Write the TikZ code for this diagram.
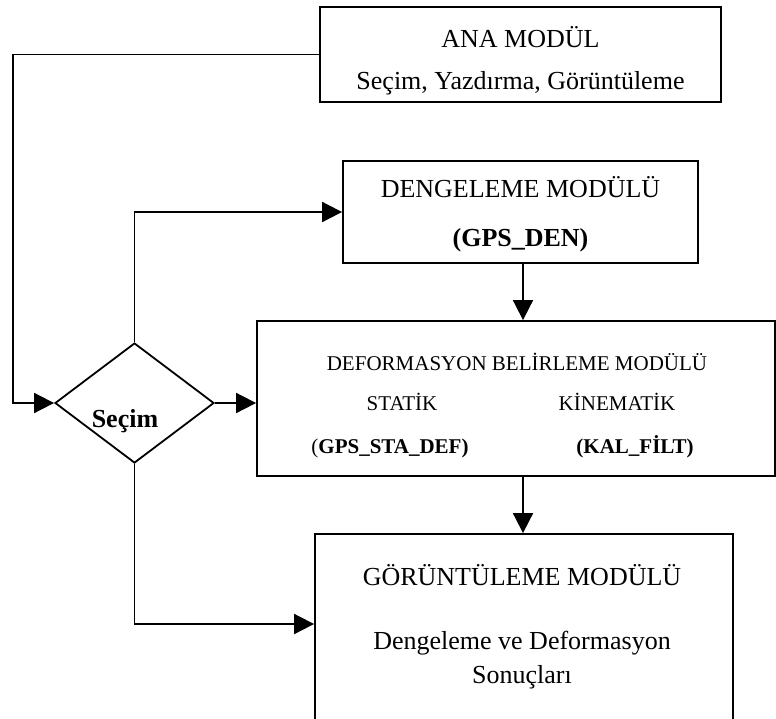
\documentclass[tikz,border=0pt]{standalone}
\usepackage{fontspec}
\setmainfont{Liberation Serif}
\usetikzlibrary{shapes.geometric,arrows.meta}
\tikzset{
  box/.style={draw, line width=1.8pt, rectangle, inner sep=0pt},
  arr/.style={line width=1.8pt, -{Triangle[length=20pt,width=20pt]}},
  conn/.style={line width=1.8pt},
  big/.style={font=\fontsize{26}{30}\selectfont, anchor=base, inner sep=0pt},
  mid/.style={font=\fontsize{21}{25}\selectfont, anchor=base, inner sep=0pt},
}
\begin{document}
\begin{tikzpicture}[x=1pt,y=-1pt]
\useasboundingbox (0,0) rectangle (776,718);
\clip (0,0) rectangle (776,718);
% boxes
\node[box, minimum width=401pt, minimum height=95pt] (ana) at (520.5,54.5) {};
\node[box, minimum width=355pt, minimum height=102pt] (deng) at (520.5,212) {};
\node[box, minimum width=518pt, minimum height=155pt] (def) at (516,398.5) {};
\node[box, minimum width=418pt, minimum height=200pt] (gor) at (524,634) {};
\node[draw, line width=1.8pt, diamond, minimum width=159pt, minimum height=120pt, inner sep=0pt] (sec) at (134.5,403) {};
% texts
\node[big] (t1) at (520.5,47.5) {ANA MODÜL};
\node[big] (t2) at (520.5,89) {Seçim, Yazdırma, Görüntüleme};
\node[big] (t3) at (520.5,197) {DENGELEME MODÜLÜ};
\node[big, font=\fontsize{26}{30}\selectfont\bfseries] (t4) at (520.5,246) {(GPS\_DEN)};
\node[mid] (t5) at (517,370) {DEFORMASYON BELİRLEME MODÜLÜ};
\node[mid] (t6) at (402,410) {STATİK};
\node[mid] (t7) at (617,410) {KİNEMATİK};
\node[mid] (t8) at (390,453) {({\bfseries GPS\_STA\_DEF)}};
\node[mid, font=\fontsize{21}{25}\selectfont\bfseries] (t9) at (635,453) {(KAL\_FİLT)};
\node[big] (t10) at (522,585) {GÖRÜNTÜLEME MODÜLÜ};
\node[big] (t11) at (522,649) {Dengeleme ve Deformasyon};
\node[big] (t12) at (522,683) {Sonuçları};
\node[big, font=\fontsize{26}{30}\selectfont\bfseries] (t13) at (125,427) {Seçim};
% connectors
\coordinate (c1) at (13,54.5);
\coordinate (m1) at (523,0);
\coordinate (c2) at (0,624);
\draw[arr] (ana.west) -- (c1) |- (sec.west);
\draw[arr] (sec.north) |- (deng.west);
\draw[arr] (deng.south -| m1) -- (def.north -| m1);
\draw[arr] (sec.east) -- (sec.east -| def.west);
\draw[arr] (def.south -| m1) -- (gor.north -| m1);
\draw[arr] (sec.south) |- (gor.west |- c2);
\end{tikzpicture}
\end{document}
